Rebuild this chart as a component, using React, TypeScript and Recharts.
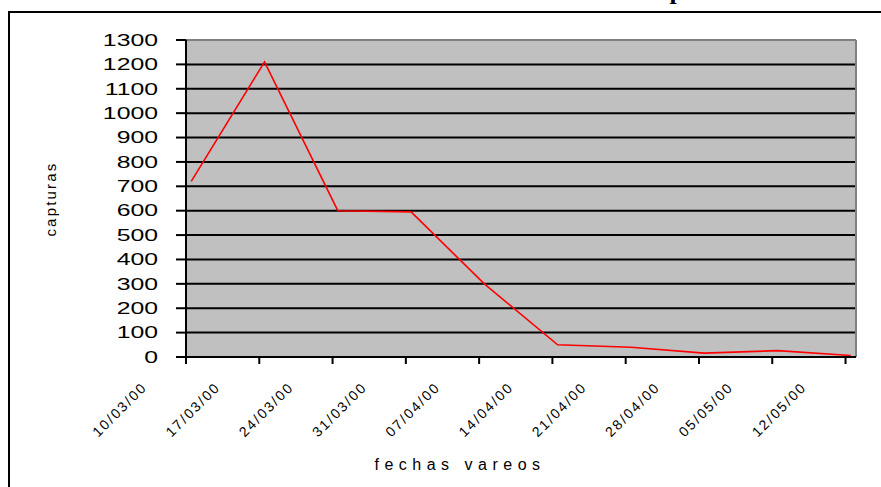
import React from 'react'
import {
  LineChart,
  Line,
  XAxis,
  YAxis,
  CartesianGrid,
  ReferenceLine,
} from 'recharts'

// days after 10/03/00 for each vareo
const dayOffsets = [0, 7, 14, 21, 28, 35, 42, 49, 56, 63]
const capturas = [720, 1210, 600, 595, 300, 50, 40, 16, 26, 6]

// week ticks sit on the edges of the day slots
const weekTicks = [-0.5, 6.5, 13.5, 20.5, 27.5, 34.5, 41.5, 48.5, 55.5, 62.5]
const weekLabels = [
  '10/03/00',
  '17/03/00',
  '24/03/00',
  '31/03/00',
  '07/04/00',
  '14/04/00',
  '21/04/00',
  '28/04/00',
  '05/05/00',
  '12/05/00',
]
const yTicks = [0, 100, 200, 300, 400, 500, 600, 700, 800, 900, 1000, 1100, 1200, 1300]

const data = dayOffsets.map((d, i) => ({ day: d, capturas: capturas[i] }))

const FONT = '"Liberation Sans", Arial, sans-serif'

function YTick(props: any) {
  const { x, y, payload } = props
  return (
    <text
      transform={`translate(${x},${y}) scale(1.55,1)`}
      textAnchor="end"
      dy="0.36em"
      fontFamily={FONT}
      fontSize={16}
      fill="#000"
    >
      {payload.value}
    </text>
  )
}

function XTick(props: any) {
  const { x, y, index } = props
  const label = weekLabels[index]
  if (!label) return null
  const ax = x - 38
  const ay = y + 22
  return (
    <text
      x={ax}
      y={ay}
      textAnchor="end"
      transform={`rotate(-45, ${ax}, ${ay})`}
      fontFamily={FONT}
      fontSize={14}
      letterSpacing={2}
      fill="#000"
    >
      {label}
    </text>
  )
}

function XLabel() {
  return (
    <text x={460} y={470} textAnchor="middle" fontFamily={FONT} fontSize={16} letterSpacing={5.5} fill="#000">
      fechas vareos
    </text>
  )
}

function YLabel() {
  return (
    <text
      x={56}
      y={199}
      textAnchor="middle"
      transform="rotate(-90, 56, 199)"
      fontFamily={FONT}
      fontSize={15}
      letterSpacing={2.2}
      fill="#000"
    >
      capturas
    </text>
  )
}

export default function App() {
  return (
    <div style={{ position: 'absolute', left: 0, top: 0, width: 881, height: 487, background: '#fff', overflow: 'hidden' }}>
      <div
        style={{
          position: 'absolute',
          left: 8,
          top: 11,
          width: 900,
          height: 500,
          borderLeft: '2px solid #000',
          borderTop: '2px solid #000',
        }}
      />
      <svg width={881} height={20} style={{ position: 'absolute', left: 0, top: 0 }}>
        <text x={645} y={-1} fontFamily='"Liberation Serif", "Times New Roman", serif' fontWeight="bold" fontSize={26} fill="#000">
          capturas
        </text>
      </svg>
      <div style={{ position: 'absolute', left: 0, top: 0 }}>
        <LineChart width={881} height={487} data={data} margin={{ top: 40, right: 25, bottom: 0, left: 0 }}>
          <CartesianGrid vertical={false} fill="#c0c0c0" stroke="#000" strokeWidth={2} fillOpacity={1} />
          <XAxis
            dataKey="day"
            type="number"
            domain={[-0.5, 63.5]}
            ticks={weekTicks}
            interval={0}
            height={130}
            tickSize={7}
            tickMargin={2}
            axisLine={{ stroke: '#000', strokeWidth: 2 }}
            tickLine={{ stroke: '#000', strokeWidth: 2 }}
            tick={<XTick />}
            label={<XLabel />}
          />
          <YAxis
            type="number"
            domain={[0, 1300]}
            ticks={yTicks}
            interval={0}
            width={186}
            tickSize={10}
            tickMargin={18}
            axisLine={{ stroke: '#000', strokeWidth: 2 }}
            tickLine={{ stroke: '#000', strokeWidth: 2 }}
            tick={<YTick />}
            label={<YLabel />}
          />
          <ReferenceLine y={1300} stroke="#808080" strokeWidth={2} />
          <ReferenceLine x={63.5} stroke="#808080" strokeWidth={2} />
          <Line
            type="linear"
            dataKey="capturas"
            stroke="#ff0000"
            strokeWidth={1.6}
            dot={false}
            isAnimationActive={false}
          />
        </LineChart>
      </div>
    </div>
  )
}
